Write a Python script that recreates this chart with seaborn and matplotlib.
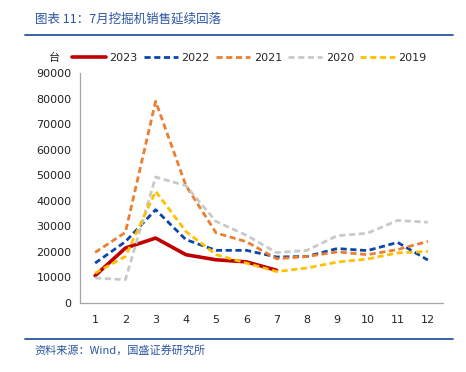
import pandas as pd
import matplotlib.pyplot as plt
import seaborn as sns
from matplotlib.lines import Line2D

months = list(range(1, 13))
sales_2023 = [10700, 21500, 25400, 18900, 16900, 16100, 12800]
sales_2022 = [15600, 24000, 36500, 24800, 20600, 20600, 18000, 18200, 21300, 20500, 23700, 16800]
sales_2021 = [19800, 27600, 78900, 46000, 27400, 24000, 17300, 18200, 20000, 18900, 20900, 24100]
sales_2020 = [9800, 9100, 49300, 45900, 31900, 26500, 19700, 20600, 26300, 27300, 32300, 31600]
sales_2019 = [11700, 18200, 43700, 28000, 18900, 15600, 12300, 13700, 16000, 17200, 19600, 20200]
y_ticks = [0, 10000, 20000, 30000, 40000, 50000, 60000, 70000, 80000, 90000]

series = {"2023": sales_2023, "2022": sales_2022, "2021": sales_2021,
          "2020": sales_2020, "2019": sales_2019}
colors = {"2023": "#C00000", "2022": "#0A47A8", "2021": "#ED7D31",
          "2020": "#C9C9C9", "2019": "#FFC000"}

sns.set_style("white")
plt.rcParams['font.family'] = ['DejaVu Sans', 'Noto Sans CJK SC']
cjk = ['Noto Sans CJK SC', 'DejaVu Sans']
blue = "#2B55A0"

fig = plt.figure(figsize=(4.66, 3.72), dpi=100)
ax = fig.add_axes([0.1717, 0.1855, 0.7789, 0.6183])

handles = []
for year, vals in series.items():
    df = pd.DataFrame({"month": months[:len(vals)], "sales": vals})
    solid = year == "2023"
    sns.lineplot(data=df, x="month", y="sales", ax=ax, color=colors[year],
                 linewidth=2.6 if solid else 2.0, errorbar=None)
    line = ax.lines[-1]
    if not solid:
        line.set_dashes([2.2, 1.3])
    handles.append(Line2D([], [], color=colors[year], linewidth=2.6 if solid else 2.0,
                          linestyle="-" if solid else (0, (2.2, 1.3))))

ax.set_xlim(0.5, 12.5)
ax.set_ylim(0, 90000)
ax.set_xticks(months)
ax.set_yticks(y_ticks)
ax.set_xlabel("")
ax.set_ylabel("")
ax.tick_params(axis="both", labelsize=8, length=0, colors="#222222")
ax.tick_params(axis="x", pad=9)
ax.tick_params(axis="y", pad=6)
for side in ["top", "right"]:
    ax.spines[side].set_visible(False)
for side in ["left", "bottom"]:
    ax.spines[side].set_color("#A6A6A6")
    ax.spines[side].set_linewidth(0.9)

fig.legend(handles, list(series.keys()), loc="center left", bbox_to_anchor=(0.132, 0.844),
           ncol=5, frameon=False, fontsize=8, handlelength=3.1, handletextpad=0.3,
           columnspacing=0.55)
fig.text(0.117, 0.844, "台", family=cjk, fontsize=8, ha="center", va="center")

# title and source
fig.text(0.075, 0.948, "图表 11：7月挖掘机销售延续回落", family=cjk, style="italic",
         fontsize=9, color=blue, ha="left", va="center")
fig.add_artist(Line2D([0.054, 0.972], [0.906, 0.906], color=blue, linewidth=1.3))
fig.add_artist(Line2D([0.054, 0.972], [0.089, 0.089], color=blue, linewidth=1.3))
fig.text(0.075, 0.057, "资料来源：Wind，国盛证券研究所", family=cjk, style="italic",
         fontsize=8, color=blue, ha="left", va="center")

fig.savefig("out.png", dpi=100)
